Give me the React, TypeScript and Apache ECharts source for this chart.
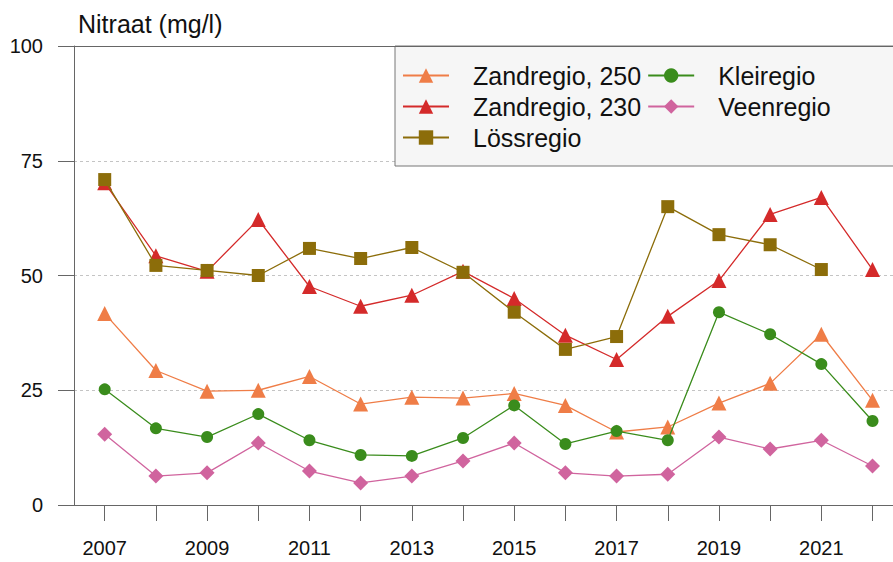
import React, { useEffect, useRef } from "react";
import * as echarts from "echarts";

const years = [2007, 2008, 2009, 2010, 2011, 2012, 2013, 2014, 2015, 2016, 2017, 2018, 2019, 2020, 2021, 2022];
const labelYears = [2007, 2009, 2011, 2013, 2015, 2017, 2019, 2021];
const yTicks = [0, 25, 50, 75, 100];

const zand250 = [41.7, 29.3, 24.8, 25.0, 28.0, 22.0, 23.5, 23.3, 24.3, 21.7, 15.9, 17.0, 22.2, 26.5, 37.2, 22.8];
const zand230 = [70.2, 54.3, 50.9, 62.2, 47.6, 43.3, 45.7, 50.9, 45.0, 37.0, 31.7, 41.1, 48.9, 63.3, 67.0, 51.3];
const loss = [70.9, 52.2, 51.1, 50.0, 55.9, 53.7, 56.1, 50.7, 42.0, 33.9, 36.7, 65.0, 58.9, 56.7, 51.3, null];
const klei = [25.2, 16.7, 14.8, 19.8, 14.1, 10.9, 10.7, 14.6, 21.7, 13.3, 16.1, 14.1, 42.0, 37.2, 30.7, 18.3];
const veen = [15.4, 6.3, 7.0, 13.5, 7.4, 4.8, 6.3, 9.6, 13.5, 7.0, 6.3, 6.7, 14.8, 12.2, 14.1, 8.5];

const FONT = '"Liberation Sans", Arial, Helvetica, sans-serif';

const seriesDefs = [
  { name: "Zandregio, 250", data: zand250, color: "#EF7D47", symbol: "triangle", size: 15 },
  { name: "Zandregio, 230", data: zand230, color: "#D42A2A", symbol: "triangle", size: 15 },
  { name: "Lössregio", data: loss, color: "#8C6D0A", symbol: "rect", size: 13 },
  { name: "Kleiregio", data: klei, color: "#3A8C1C", symbol: "circle", size: 12 },
  { name: "Veenregio", data: veen, color: "#D0649E", symbol: "diamond", size: 15 },
];

export default function App() {
  const ref = useRef<HTMLDivElement>(null);
  useEffect(() => {
    if (!ref.current) return;
    const chart = echarts.init(ref.current, undefined, { renderer: "svg" });
    const series: any[] = seriesDefs.map((s, i) => ({
      name: s.name,
      type: "line",
      data: years.map((y, k) => [y, s.data[k]]),
      symbol: s.symbol,
      symbolSize: s.size,
      showSymbol: true,
      connectNulls: false,
      itemStyle: { color: s.color },
      lineStyle: { color: s.color, width: 1.3 },
      z: 3 + i,
    }));
    series[0].markLine = {
      silent: true,
      symbol: "none",
      label: { show: false },
      lineStyle: { color: "#666", type: "solid", width: 1 },
      data: [{ yAxis: 0 }, { yAxis: 100 }],
    };
    chart.setOption({
      animation: false,
      textStyle: { fontFamily: FONT },
      title: {
        text: "Nitraat (mg/l)",
        left: 73,
        top: 6,
        textStyle: { fontFamily: FONT, fontSize: 25, fontWeight: "normal", color: "#111" },
      },
      grid: { left: 74, right: 0, top: 46, bottom: 57, containLabel: false },
      legend: {
        orient: "vertical",
        left: 395,
        top: 46,
        height: 100,
        padding: [17, 80, 16, 7],
        itemGap: 6,
        itemWidth: 46,
        itemHeight: 18,
        backgroundColor: "#f6f6f6",
        borderColor: "#777",
        borderWidth: 1,
        borderRadius: 0,
        textStyle: { fontFamily: FONT, fontSize: 25, color: "#111", padding: [0, 0, 0, 19] },
        data: seriesDefs.map((s) => s.name),
      },
      xAxis: {
        type: "value",
        min: 2006.4,
        max: 2022.4,
        splitLine: { show: false },
        axisLine: { show: true, lineStyle: { color: "#666", width: 1 } },
        axisTick: { show: true, customValues: years, length: 16, lineStyle: { color: "#666" } },
        axisLabel: {
          customValues: labelYears,
          margin: 33,
          fontSize: 20,
          color: "#111",
          fontFamily: FONT,
          formatter: (v: number) => String(v),
        },
      },
      yAxis: {
        type: "value",
        min: 0,
        max: 100,
        interval: 25,
        axisLine: { show: true, lineStyle: { color: "#666", width: 1 } },
        axisTick: { show: true, length: 16, lineStyle: { color: "#666" } },
        axisLabel: {
          customValues: yTicks,
          margin: 31,
          fontSize: 20,
          color: "#111",
          fontFamily: FONT,
        },
        splitLine: { show: true, lineStyle: { color: "#c4c4c4", type: [3, 3], width: 1 } },
      },
      series,
    });
    return () => chart.dispose();
  }, []);
  return (
    <div
      ref={ref}
      style={{ position: "absolute", left: 0, top: 0, width: 893, height: 562, background: "#fff" }}
    />
  );
}
